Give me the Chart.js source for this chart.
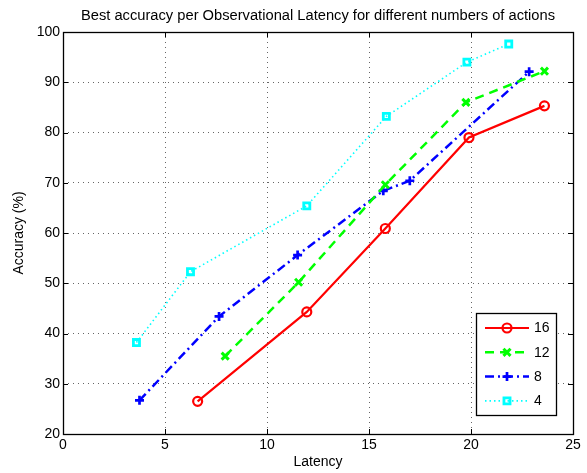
<!DOCTYPE html>
<html>
<head>
<meta charset="utf-8">
<script src="https://cdn.jsdelivr.net/npm/chart.js@4/dist/chart.umd.min.js"></script>
<style>
  html, body { margin: 0; padding: 0; background: #fff; }
  #c { display: block; }
</style>
</head>
<body>
<canvas id="c" width="587" height="473"></canvas>
<script>
// ---- data ----
const chartTitle = 'Best accuracy per Observational Latency for different numbers of actions';
const seriesLabels = ['16', '12', '8', '4'];
const latency16 = [6.6, 11.95, 15.8, 19.9, 23.6];
const accuracy16 = [26.5, 44.3, 60.9, 79.0, 85.3];
const latency12 = [7.95, 11.55, 15.8, 19.75, 23.6];
const accuracy12 = [35.5, 50.2, 69.6, 86.0, 92.2];
const latency8 = [3.75, 7.65, 11.5, 15.7, 17.0, 22.85];
const accuracy8 = [26.7, 43.4, 55.6, 68.4, 70.4, 92.1];
const latency4 = [3.6, 6.25, 11.95, 15.85, 19.8, 21.85];
const accuracy4 = [38.2, 52.3, 65.4, 83.2, 94.0, 97.6];
const xTicks = [0, 5, 10, 15, 20, 25];
const yTicks = [20, 30, 40, 50, 60, 70, 80, 90, 100];

const toPts = (xs, ys) => xs.map((x, i) => ({ x: x, y: ys[i] }));

const FONT = "'Liberation Sans', Arial, Helvetica, sans-serif";

const datasets = [
  { label: seriesLabels[0], data: toPts(latency16, accuracy16), borderColor: '#ff0000',
    borderWidth: 2.2, borderDash: [], pointStyle: 'circle', pointRadius: 4.5,
    pointBorderWidth: 2.2, pointBorderColor: '#ff0000', pointBackgroundColor: 'rgba(0,0,0,0)' },
  { label: seriesLabels[1], data: toPts(latency12, accuracy12), borderColor: '#00ff00',
    borderWidth: 2.5, borderDash: [9, 6], pointStyle: 'crossRot', pointRadius: 5,
    pointBorderWidth: 3, pointBorderColor: '#00ff00', pointBackgroundColor: '#00ff00' },
  { label: seriesLabels[2], data: toPts(latency8, accuracy8), borderColor: '#0000ff',
    borderWidth: 2.5, borderDash: [9, 4, 2, 4], pointStyle: 'cross', pointRadius: 4.5,
    pointBorderWidth: 2.7, pointBorderColor: '#0000ff', pointBackgroundColor: '#0000ff' },
  { label: seriesLabels[3], data: toPts(latency4, accuracy4), borderColor: '#00ffff',
    borderWidth: 1.6, borderDash: [1.5, 3], pointStyle: 'rect', pointRadius: 4.3,
    pointBorderWidth: 2.8, pointBorderColor: '#00ffff', pointBackgroundColor: 'rgba(0,0,0,0)' }
];
datasets.forEach(d => { d.showLine = true; d.fill = false; d.tension = 0; d.pointHoverRadius = d.pointRadius; });

// ---- title centred over the plot area ----
const titlePlugin = {
  id: 'plotTitle',
  afterDraw(chart) {
    const { ctx, chartArea: a } = chart;
    ctx.save();
    ctx.fillStyle = '#000';
    ctx.font = '14.7px ' + FONT;
    ctx.textAlign = 'center';
    ctx.textBaseline = 'middle';
    ctx.fillText(chartTitle, (a.left + a.right) / 2, 15.5);
    ctx.restore();
  }
};

// ---- box border + inward tick marks ----
const framePlugin = {
  id: 'frame',
  afterDraw(chart) {
    const { ctx, chartArea: a, scales } = chart;
    ctx.save();
    ctx.strokeStyle = '#000';
    ctx.lineWidth = 1;
    ctx.beginPath();
    const L = 5;
    xTicks.forEach(v => {
      const px = Math.round(scales.x.getPixelForValue(v)) + 0.5;
      ctx.moveTo(px, a.bottom); ctx.lineTo(px, a.bottom - L);
      ctx.moveTo(px, a.top); ctx.lineTo(px, a.top + L);
    });
    yTicks.forEach(v => {
      const py = Math.round(scales.y.getPixelForValue(v)) + 0.5;
      ctx.moveTo(a.left, py); ctx.lineTo(a.left + L, py);
      ctx.moveTo(a.right, py); ctx.lineTo(a.right - L, py);
    });
    ctx.stroke();
    ctx.lineWidth = 1.3;
    ctx.strokeRect(Math.round(a.left) + 0.5, Math.round(a.top) + 0.5,
      Math.round(a.right - a.left), Math.round(a.bottom - a.top));
    ctx.restore();
  }
};

// ---- MATLAB-style legend box inside the plot ----
const legendPlugin = {
  id: 'boxLegend',
  afterDraw(chart) {
    const { ctx, chartArea: a } = chart;
    const w = 80, h = 102;
    const bx = a.right - 17 - w, by = a.bottom - 19 - h;
    ctx.save();
    ctx.fillStyle = '#fff';
    ctx.fillRect(bx, by, w, h);
    ctx.strokeStyle = '#000';
    ctx.lineWidth = 1.3;
    ctx.strokeRect(Math.round(bx) + 0.5, Math.round(by) + 0.5, w, h);
    chart.data.datasets.forEach((d, i) => {
      const y = by + 15 + i * 24.3;
      ctx.save();
      ctx.strokeStyle = d.borderColor;
      ctx.lineWidth = d.borderWidth;
      ctx.setLineDash(d.borderDash || []);
      ctx.beginPath();
      ctx.moveTo(bx + 9, y); ctx.lineTo(bx + 53, y);
      ctx.stroke();
      ctx.restore();
      ctx.save();
      ctx.setLineDash([]);
      ctx.strokeStyle = d.pointBorderColor;
      ctx.fillStyle = d.pointBackgroundColor;
      ctx.lineWidth = d.pointBorderWidth;
      Chart.helpers.drawPoint(ctx, { pointStyle: d.pointStyle, radius: d.pointRadius, rotation: 0, borderWidth: d.pointBorderWidth }, bx + 31, y);
      ctx.restore();
      ctx.fillStyle = '#000';
      ctx.font = '14px ' + FONT;
      ctx.textAlign = 'left';
      ctx.textBaseline = 'middle';
      ctx.fillText(d.label, bx + 58, y + 0.5);
    });
    ctx.restore();
  }
};

new Chart(document.getElementById('c'), {
  type: 'scatter',
  data: { datasets: datasets },
  plugins: [titlePlugin, framePlugin, legendPlugin],
  options: {
    responsive: false,
    animation: false,
    devicePixelRatio: 1,
    layout: { padding: { left: 0, right: 14, top: 32, bottom: 0 } },
    plugins: {
      legend: { display: false },
      tooltip: { enabled: false },
      title: { display: false }
    },
    scales: {
      x: {
        type: 'linear', min: 0, max: 25,
        afterBuildTicks: s => { s.ticks = xTicks.map(v => ({ value: v })); },
        afterFit: s => { s.height = 39; },
        border: { display: false, dash: [1, 4] },
        grid: { drawTicks: false, color: 'rgba(0,0,0,0.6)', lineWidth: 1, tickLength: 0 },
        ticks: { color: '#000', padding: 3, font: { family: FONT, size: 14 }, maxRotation: 0 },
        title: { display: true, text: 'Latency', color: '#000', font: { family: FONT, size: 14 }, padding: { top: 0, bottom: 2 } }
      },
      y: {
        type: 'linear', min: 20, max: 100,
        afterBuildTicks: s => { s.ticks = yTicks.map(v => ({ value: v })); },
        afterFit: s => { s.width = 63; },
        border: { display: false, dash: [1, 4] },
        grid: { drawTicks: false, color: 'rgba(0,0,0,0.6)', lineWidth: 1, tickLength: 0 },
        ticks: { color: '#000', padding: 3, font: { family: FONT, size: 14 } },
        title: { display: true, text: 'Accuracy (%)', color: '#000', font: { family: FONT, size: 14 }, padding: { top: 11, bottom: 0 } }
      }
    }
  }
});
</script>
</body>
</html>
